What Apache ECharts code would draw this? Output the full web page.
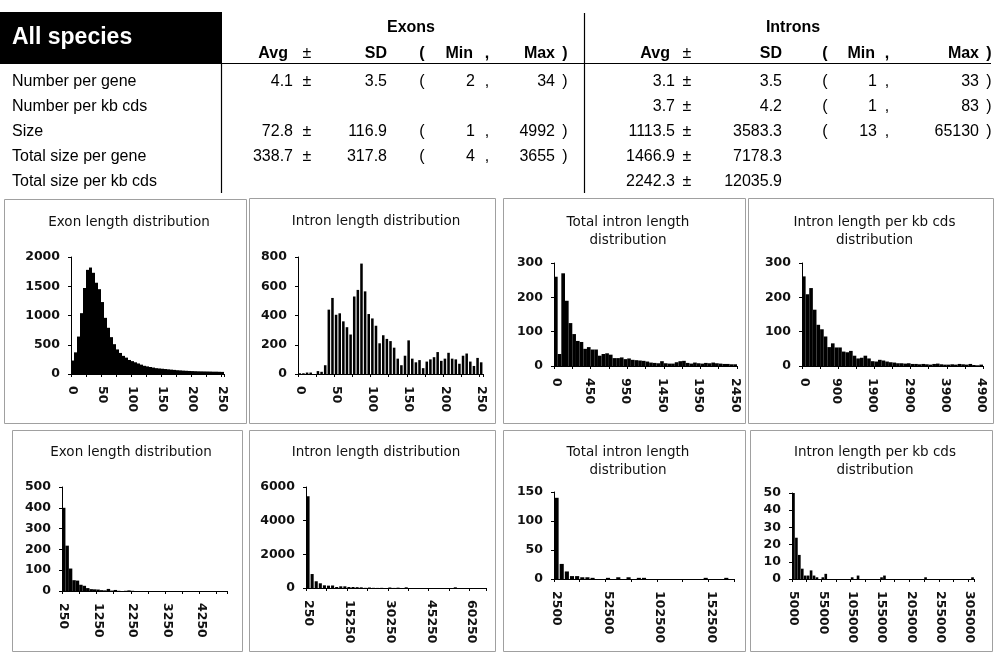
<!DOCTYPE html>
<html>
<head>
<meta charset="utf-8">
<title>All species</title>
<script src="https://cdn.jsdelivr.net/npm/echarts@6/dist/echarts.min.js"></script>
<style>
    html, body { margin: 0; padding: 0; background: #fff; }
    #main { width: 997px; height: 652px; }
</style>
</head>
<body>
<div id="main"></div>
<script>
// ---------- summary table ----------
var rowLabels = ['Number per gene', 'Number per kb cds', 'Size', 'Total size per gene', 'Total size per kb cds'];
var exonAvg   = ['4.1', '', '72.8', '338.7', ''];
var exonSD    = ['3.5', '', '116.9', '317.8', ''];
var exonMin   = ['2', '', '1', '4', ''];
var exonMax   = ['34', '', '4992', '3655', ''];
var intronAvg = ['3.1', '3.7', '1113.5', '1466.9', '2242.3'];
var intronSD  = ['3.5', '4.2', '3583.3', '7178.3', '12035.9'];
var intronMin = ['1', '1', '13', '', ''];
var intronMax = ['33', '83', '65130', '', ''];

// ---------- histograms (counts per bin) ----------
// exon length 0-250, bin 5
var exonShortCounts = [230, 370, 640, 1040, 1470, 1780, 1820, 1730, 1560, 1450, 1230, 960, 790, 630, 510,
    420, 360, 310, 280, 240, 220, 200, 180, 160, 140, 130, 120, 110, 100, 95, 90, 85, 80, 75, 70,
    65, 62, 58, 55, 52, 50, 48, 46, 45, 44, 43, 42, 40, 40, 38, 36];
var exonShortTicks = ['0', '50', '100', '150', '200', '250'];

// intron length 0-250, bin 5
var intronShortCounts = [5, 5, 10, 10, 0, 20, 15, 60, 440, 520, 405, 415, 360, 320, 270, 530, 575, 755,
    565, 410, 380, 330, 210, 265, 240, 225, 180, 105, 60, 125, 230, 105, 80, 95, 40, 85, 100, 115,
    150, 90, 105, 145, 105, 100, 70, 125, 140, 85, 55, 110, 80];
var intronShortTicks = ['0', '50', '100', '150', '200', '250'];

// total intron length 0-2500, bin 50
var totIntronShortCounts = [260, 35, 270, 190, 125, 93, 73, 70, 50, 55, 48, 48, 30, 35, 37, 33, 23, 23,
    25, 20, 22, 18, 17, 16, 15, 13, 10, 9, 8, 14, 8, 7, 7, 11, 14, 15, 9, 7, 10, 8, 7, 9, 8, 10, 8,
    7, 6, 6, 5, 5];
var totIntronShortTicks = ['0', '450', '950', '1450', '1950', '2450'];

// intron length per kb cds 0-5000, bin 100
var perKbShortCounts = [261, 209, 227, 164, 120, 107, 86, 55, 66, 54, 54, 42, 40, 44, 30, 22, 24, 30,
    22, 14, 13, 18, 16, 13, 11, 10, 8, 8, 7, 8, 6, 6, 5, 6, 5, 4, 6, 7, 5, 4, 4, 5, 4, 6, 5, 4, 6,
    3, 2, 4];
var perKbShortTicks = ['0', '900', '1900', '2900', '3900', '4900'];

// exon length 250-5050, bin 100
var exonLongCounts = [400, 218, 108, 52, 50, 30, 25, 14, 9, 8, 7, 4, 3, 10, 2, 5, 1, 0, 1, 3, 1, 0, 0,
    0, 0, 0, 0, 0, 0, 0, 0, 0, 0, 0, 0, 0, 0, 0, 0, 0, 0, 0, 0, 0, 0, 0, 0, 0];
var exonLongTicks = ['250', '1250', '2250', '3250', '4250'];

// intron length 250-66250, bin 1500
var intronLongCounts = [5450, 830, 400, 280, 160, 140, 150, 60, 100, 100, 60, 60, 50, 40, 10, 30, 10, 5,
    10, 0, 30, 5, 20, 0, 40, 0, 0, 0, 0, 0, 0, 0, 0, 0, 0, 0, 40, 0, 0, 0, 0, 0, 0, 0];
var intronLongTicks = ['250', '15250', '30250', '45250', '60250'];

// total intron length 2500-177500, bin 5000
var totIntronLongCounts = [140, 26, 13, 5, 5, 3, 3, 2, 0, 0, 2, 0, 3, 0, 3, 0, 2, 2, 0, 0, 0, 0, 0, 0,
    0, 0, 0, 0, 0, 2, 0, 0, 0, 2, 0];
var totIntronLongTicks = ['2500', '52500', '102500', '152500'];

// intron length per kb cds 5000-315000, bin 5000
var perKbLongCounts = [51, 24, 14, 6, 2, 2, 5, 2, 1, 0, 1, 3, 0, 0, 0, 0, 0, 0, 0, 0, 1, 0, 2, 0, 0, 0,
    0, 0, 0, 0, 1, 2, 0, 0, 0, 0, 0, 0, 0, 0, 0, 0, 0, 0, 0, 1, 0, 0, 0, 0, 0, 0, 0, 0, 0, 0, 0, 0,
    0, 0, 0, 1];
var perKbLongTicks = ['5000', '55000', '105000', '155000', '205000', '255000', '305000'];

var FONT = '"Liberation Sans", Arial, sans-serif';
var AXIS_FONT = '"DejaVu Sans", sans-serif';

/**
 * 面板配置: 框, 绘图区, 坐标轴
 */
var panels = [
    {title: ['Exon length distribution'], start: 0, step: 5, counts: exonShortCounts, ticks: exonShortTicks,
        max: 2000, interval: 500, box: [4, 199, 242, 224], grid: [71, 257, 153, 117], gap: '0%', titleY: 222},
    {title: ['Intron length distribution'], start: 0, step: 5, counts: intronShortCounts, ticks: intronShortTicks,
        max: 800, interval: 200, box: [249, 198, 246, 225], grid: [298, 257, 185, 117], gap: '30%', titleY: 221},
    {title: ['Total intron length', 'distribution'], start: 0, step: 50, counts: totIntronShortCounts, ticks: totIntronShortTicks,
        max: 300, interval: 100, box: [503, 198, 242, 225], grid: [554, 263, 183, 103], gap: '0%', titleY: 222},
    {title: ['Intron length per kb cds', 'distribution'], start: 0, step: 100, counts: perKbShortCounts, ticks: perKbShortTicks,
        max: 300, interval: 100, box: [748, 198, 245, 225], grid: [802, 263, 181, 103], gap: '0%', titleY: 222},
    {title: ['Exon length distribution'], start: 250, step: 100, counts: exonLongCounts, ticks: exonLongTicks,
        max: 500, interval: 100, box: [12, 430, 230, 221], grid: [62, 487, 165, 104], gap: '0%', titleY: 452},
    {title: ['Intron length distribution'], start: 250, step: 1500, counts: intronLongCounts, ticks: intronLongTicks,
        max: 6000, interval: 2000, box: [249, 430, 246, 221], grid: [306, 487, 180, 101], gap: '25%', titleY: 452},
    {title: ['Total intron length', 'distribution'], start: 2500, step: 5000, counts: totIntronLongCounts, ticks: totIntronLongTicks,
        max: 150, interval: 50, box: [503, 430, 242, 221], grid: [554, 492, 180, 87], gap: '20%', titleY: 452},
    {title: ['Intron length per kb cds', 'distribution'], start: 5000, step: 5000, counts: perKbLongCounts, ticks: perKbLongTicks,
        max: 50, interval: 10, box: [750, 430, 242, 221], grid: [792, 493, 182, 86], gap: '10%', titleY: 452}
];

var graphics = [];

function addText(x, y, s, align, size, bold, color, family) {
    graphics.push({
        type: 'text', x: x, y: y, silent: true,
        style: {
            text: s, fill: color || '#000',
            font: (bold ? 'bold ' : '') + size + 'px ' + (family || FONT),
            align: align, textAlign: align, verticalAlign: 'middle', textVerticalAlign: 'middle'
        }
    });
}

function addLine(x1, y1, x2, y2, color, w) {
    graphics.push({
        type: 'line', silent: true,
        shape: {x1: x1, y1: y1, x2: x2, y2: y2},
        style: {stroke: color || '#000', lineWidth: w || 1}
    });
}

// 表头
graphics.push({type: 'rect', silent: true, shape: {x: 0, y: 12, width: 222, height: 51}, style: {fill: '#000'}});
addText(12, 38, 'All species', 'left', 23, true, '#fff');
addLine(0, 63.5, 991, 63.5, '#000', 1.2);
addLine(221.5, 63, 221.5, 193, '#000', 1.2);
addLine(584.5, 13, 584.5, 193, '#000', 1.2);
addText(411, 28, 'Exons', 'center', 16, true);
addText(793, 28, 'Introns', 'center', 16, true);

// 列位置: [avg右, ±, sd右, (, min右, ",", max右, )]
var exonCols = [293, 307, 387, 422, 475, 487, 555, 565];
var intronCols = [675, 687, 782, 825, 877, 887, 979, 989];

function addHeader(c) {
    var hy = 54;
    addText(c[0] - 5, hy, 'Avg', 'right', 16, true);
    addText(c[1], hy, '\u00b1', 'center', 16, false);
    addText(c[2], hy, 'SD', 'right', 16, true);
    addText(c[3], hy, '(', 'center', 16, true);
    addText(c[4] - 2, hy, 'Min', 'right', 16, true);
    addText(c[5], hy, ',', 'center', 16, true);
    addText(c[6], hy, 'Max', 'right', 16, true);
    addText(c[7], hy, ')', 'center', 16, true);
}
addHeader(exonCols);
addHeader(intronCols);

function addRow(c, y, avg, sd, mn, mx) {
    if (avg !== '') {
        addText(c[0], y, avg, 'right', 16);
        addText(c[1], y, '\u00b1', 'center', 16);
        addText(c[2], y, sd, 'right', 16);
    }
    if (mn !== '') {
        addText(c[3], y, '(', 'center', 16);
        addText(c[4], y, mn, 'right', 16);
        addText(c[5], y, ',', 'center', 16);
    }
    if (mx !== '') {
        addText(c[6], y, mx, 'right', 16);
        addText(c[7], y, ')', 'center', 16);
    }
}

for (var r = 0; r < rowLabels.length; r++) {
    var ry = 82 + r * 24.8;
    addText(12, ry, rowLabels[r], 'left', 16);
    addRow(exonCols, ry, exonAvg[r], exonSD[r], exonMin[r], exonMax[r]);
    addRow(intronCols, ry, intronAvg[r], intronSD[r], intronMin[r], intronMax[r]);
}

// 面板边框和标题
var grids = [], xAxes = [], yAxes = [], series = [];
panels.forEach(function (p, i) {
    graphics.push({
        type: 'rect', silent: true,
        shape: {x: p.box[0] + 0.5, y: p.box[1] + 0.5, width: p.box[2], height: p.box[3]},
        style: {fill: 'none', stroke: '#a0a0a0', lineWidth: 1}
    });
    var cx = p.box[0] + p.box[2] / 2 + 4;
    p.title.forEach(function (t, k) {
        addText(cx, p.titleY + k * 18, t, 'center', 13.5, false, '#111', AXIS_FONT);
    });

    var cats = [];
    for (var b = 0; b < p.counts.length; b++) {
        cats.push(String(p.start + b * p.step));
    }
    var ticks = p.ticks;

    grids.push({left: p.grid[0], top: p.grid[1], width: p.grid[2], height: p.grid[3], outerBoundsMode: 'none'});
    xAxes.push({
        type: 'category', gridIndex: i, data: cats, boundaryGap: true,
        axisLine: {lineStyle: {color: '#000', width: 1}},
        axisTick: {show: true, interval: 4, length: 3, lineStyle: {color: '#000'}},
        axisLabel: {
            interval: function (idx, val) { return ticks.indexOf(val) >= 0; },
            rotate: -90, margin: 12, fontSize: 12.5, fontWeight: 'bold', color: '#111',
            fontFamily: AXIS_FONT, hideOverlap: false
        }
    });
    yAxes.push({
        type: 'value', gridIndex: i, min: 0, max: p.max, interval: p.interval,
        axisLine: {show: true, lineStyle: {color: '#000', width: 1}},
        axisTick: {show: true, length: 3, lineStyle: {color: '#000'}},
        splitLine: {show: false},
        axisLabel: {
            margin: 11, fontSize: 12.5, fontWeight: 'bold', color: '#111', fontFamily: AXIS_FONT,
            formatter: function (v) { return String(v); }
        }
    });
    series.push({
        type: 'bar', xAxisIndex: i, yAxisIndex: i, data: p.counts,
        itemStyle: {color: '#000'}, barCategoryGap: p.gap, silent: true
    });
});

var chart = echarts.init(document.getElementById('main'));
chart.setOption({
    animation: false,
    backgroundColor: '#fff',
    grid: grids,
    xAxis: xAxes,
    yAxis: yAxes,
    series: series,
    graphic: graphics
});
</script>
</body>
</html>
